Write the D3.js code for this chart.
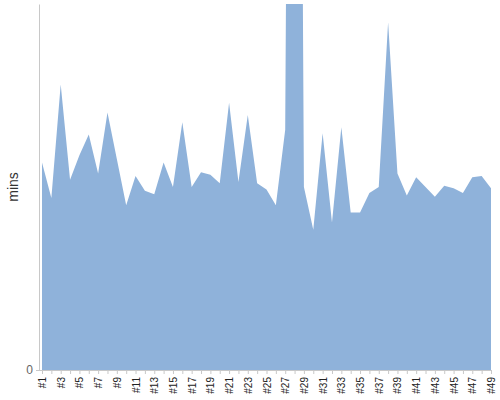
<!DOCTYPE html>
<html>
<head>
<meta charset="utf-8">
<script src="https://cdn.jsdelivr.net/npm/d3@7"></script>
<style>
  body { margin: 0; background: #fff; }
  svg { font-family: "Liberation Sans", Arial, sans-serif; }
</style>
</head>
<body>
<svg id="chart" width="500" height="400"></svg>
<script>
// values (minutes), one per run #1..#49
var labels = d3.range(1, 50).map(function(i) { return "#" + i; });
var mins = [17.0, 14.1, 23.4, 15.6, 17.6, 19.3, 16.1, 21.1, 17.3, 13.5,
            15.9, 14.7, 14.4, 17.0, 15.0, 20.3, 15.0, 16.2, 16.0, 15.3,
            21.9, 15.4, 20.9, 15.3, 14.8, 13.5, 19.7, 150, 15.0, 11.5,
            19.4, 12.1, 19.9, 12.9, 12.9, 14.5, 15.0, 28.5, 16.1, 14.3,
            15.8, 15.0, 14.2, 15.1, 14.9, 14.5, 15.8, 15.9, 14.9];
var yMax = 30;

var svg = d3.select('#chart'),
    margin = {top: 4, right: 9, bottom: 30, left: 39},
    width = +svg.attr("width") - margin.left - margin.right,
    height = +svg.attr("height") - margin.top - margin.bottom,
    g = svg.append("g").attr("transform", "translate(" + margin.left + "," + margin.top + ")");

var data = labels.map(function(l, i) { return {label: l, v: mins[i]}; });

var x = d3.scalePoint()
    .domain(labels)
    .range([3, width]);

var y = d3.scaleLinear()
    .domain([0, yMax])
    .range([height, 0]);

svg.append("clipPath")
    .attr("id", "clip")
  .append("rect")
    .attr("x", 0)
    .attr("y", 0)
    .attr("width", width)
    .attr("height", height);

var area = d3.area()
    .x(function(d) { return x(d.label); })
    .y0(height)
    .y1(function(d) { return y(d.v); });

g.append("path")
    .datum(data)
    .attr("clip-path", "url(#clip)")
    .attr("fill", "#8fb2da")
    .attr("d", area);

// x axis
var xAxis = g.append("g")
    .attr("transform", "translate(0," + height + ")")
    .call(d3.axisBottom(x).tickSize(4).tickSizeOuter(0)
        .tickFormat(function(d, i) { return i % 2 === 0 ? d : ""; }));

xAxis.select(".domain").attr("stroke", "#c8c8c8").attr("d", "M-3,0.5H" + width);
xAxis.selectAll(".tick line").attr("stroke", "#c8c8c8");
xAxis.selectAll("text")
    .attr("transform", "rotate(-90)")
    .attr("x", -7)
    .attr("y", 0)
    .attr("dy", "0.35em")
    .style("text-anchor", "end")
    .attr("fill", "#222")
    .attr("font-size", "10px");

// y axis, only the zero tick
var yAxis = g.append("g")
    .call(d3.axisLeft(y).tickValues([0]).tickSize(0).tickPadding(6).tickSizeOuter(0));

yAxis.select(".domain").attr("stroke", "#c8c8c8");
yAxis.selectAll("text")
    .attr("fill", "#666")
    .attr("font-size", "12px");

svg.append("text")
    .attr("transform", "translate(18," + (margin.top + height / 2) + ") rotate(-90)")
    .style("text-anchor", "middle")
    .attr("fill", "#333")
    .attr("font-size", "14px")
    .text("mins");
</script>
</body>
</html>
